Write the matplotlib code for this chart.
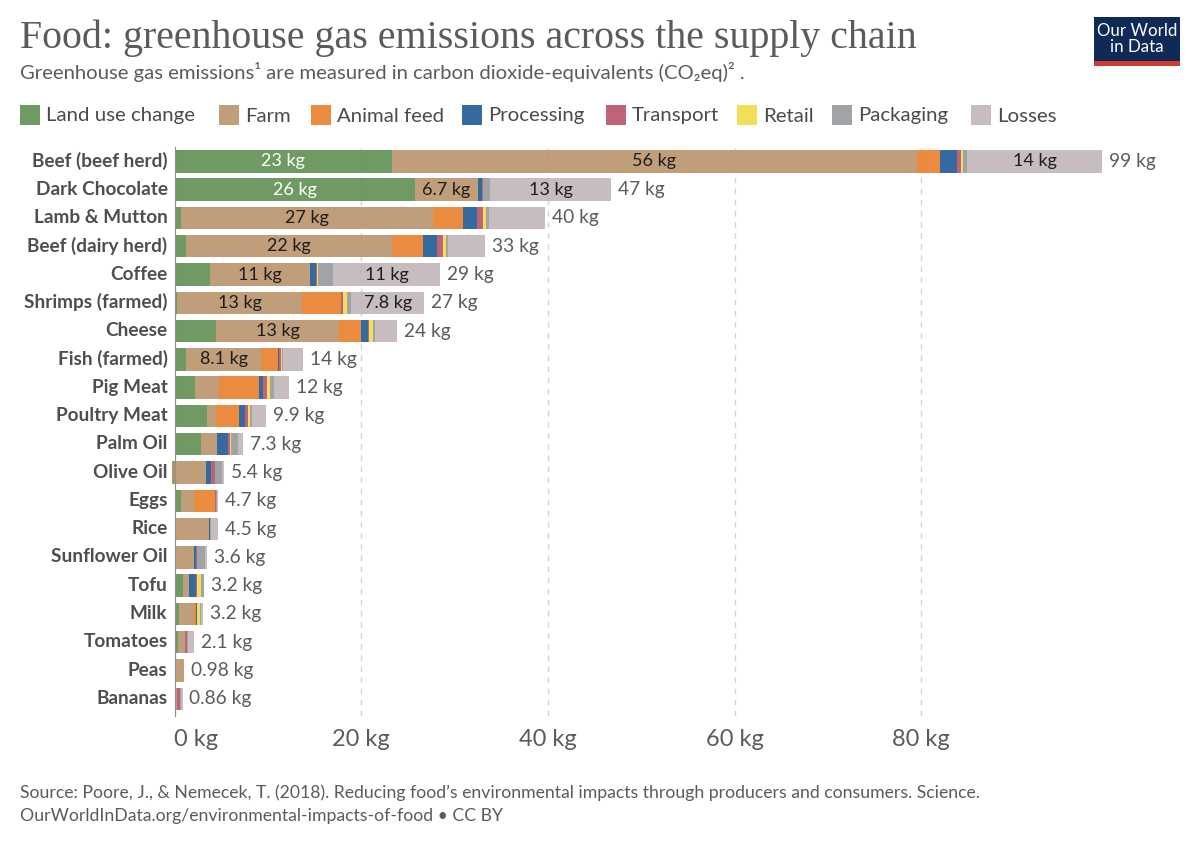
from __future__ import annotations

import matplotlib

matplotlib.use("Agg")

import matplotlib.pyplot as plt
import numpy as np
from matplotlib.patches import Rectangle
from matplotlib.transforms import ScaledTranslation

foods = [
    "Beef (beef herd)", "Dark Chocolate", "Lamb & Mutton", "Beef (dairy herd)", "Coffee",
    "Shrimps (farmed)", "Cheese", "Fish (farmed)", "Pig Meat", "Poultry Meat",
    "Palm Oil", "Olive Oil", "Eggs", "Rice", "Sunflower Oil",
    "Tofu", "Milk", "Tomatoes", "Peas", "Bananas",
]
total_labels = [
    "99 kg", "47 kg", "40 kg", "33 kg", "29 kg", "27 kg", "24 kg", "14 kg", "12 kg", "9.9 kg",
    "7.3 kg", "5.4 kg", "4.7 kg", "4.5 kg", "3.6 kg", "3.2 kg", "3.2 kg", "2.1 kg", "0.98 kg", "0.86 kg",
]

land_use = [23.3, 25.8, 0.65, 1.25, 3.8, 0.3, 4.45, 1.2, 2.2, 3.5, 2.8, -0.3, 0.7, 0, 0, 0.95, 0.5, 0.4, 0, 0]
farm = [56.2, 6.7, 27, 22, 10.7, 13.4, 13.2, 8.1, 2.55, 0.95, 1.8, 3.7, 1.35, 3.65, 2.1, 0.55, 1.55, 0.7, 0.98, 0.27]
animal_feed = [2.5, 0, 3.3, 3.4, 0, 4.1, 2.3, 1.8, 4.25, 2.45, 0, 0, 2.3, 0, 0, 0, 0.2, 0, 0, 0]
processing = [1.8, 0.4, 1.5, 1.5, 0.7, 0, 0.8, 0.05, 0.5, 0.6, 1.15, 0.55, 0, 0.1, 0.2, 0.75, 0.15, 0, 0, 0.05]
transport = [0.5, 0.1, 0.6, 0.6, 0.1, 0.3, 0.1, 0.3, 0.45, 0.35, 0.2, 0.4, 0.05, 0.1, 0.1, 0.2, 0.05, 0.2, 0, 0.3]
retail = [0.2, 0, 0.3, 0.3, 0.1, 0.35, 0.4, 0.1, 0.3, 0.25, 0.05, 0, 0, 0, 0, 0.35, 0.3, 0, 0, 0]
packaging = [0.4, 0.8, 0.3, 0.3, 1.6, 0.5, 0.2, 0.1, 0.4, 0.2, 0.8, 0.75, 0.1, 0.1, 0.9, 0.35, 0.1, 0.1, 0, 0.04]
losses = [14.5, 13, 6, 3.9, 11.4, 7.8, 2.4, 2.1, 1.65, 1.5, 0.55, 0.25, 0.2, 0.7, 0.2, 0.05, 0.2, 0.7, 0, 0.2]

series_names = ["Land use change", "Farm", "Animal feed", "Processing", "Transport", "Retail", "Packaging", "Losses"]
series_values = [land_use, farm, animal_feed, processing, transport, retail, packaging, losses]

# labels printed inside the wide segments: (food, series, text)
segment_labels = [
    ("Beef (beef herd)", "Land use change", "23 kg"),
    ("Beef (beef herd)", "Farm", "56 kg"),
    ("Beef (beef herd)", "Losses", "14 kg"),
    ("Dark Chocolate", "Land use change", "26 kg"),
    ("Dark Chocolate", "Farm", "6.7 kg"),
    ("Dark Chocolate", "Losses", "13 kg"),
    ("Lamb & Mutton", "Farm", "27 kg"),
    ("Beef (dairy herd)", "Farm", "22 kg"),
    ("Coffee", "Farm", "11 kg"),
    ("Coffee", "Losses", "11 kg"),
    ("Shrimps (farmed)", "Farm", "13 kg"),
    ("Shrimps (farmed)", "Losses", "7.8 kg"),
    ("Cheese", "Farm", "13 kg"),
    ("Fish (farmed)", "Farm", "8.1 kg"),
]

colors = ["#5f8f52", "#b8946a", "#e87e2a", "#1f5a96", "#b9526c", "#efdc45", "#979a9c", "#c1b5b7"]
legend_x_px = [20, 219, 311, 462, 606, 737, 832, 971]

TEXT = "#5b5b5b"
WIDTH, HEIGHT = 1200, 841

plt.rcParams["font.family"] = ["Lato", "DejaVu Sans"]


def fx(px: float) -> float:
    return px / WIDTH


def fy(px: float) -> float:
    return 1 - px / HEIGHT


figure = plt.figure(figsize=(WIDTH / 100, HEIGHT / 100), dpi=100)

axis = figure.add_axes([fx(174.5), fy(715.5), fx(933.5), (715.5 - 147.5) / HEIGHT])
axis.set_xlim(0, 100)
axis.set_ylim(19.59, -0.49)

rows = np.arange(len(foods))
starts = np.zeros(len(foods))
segment_centers = {}
for name, values, color in zip(series_names, series_values, colors):
    values = np.array(values, dtype=float)
    axis.barh(rows, values, left=starts, height=0.79, color=color, alpha=0.9, linewidth=0, zorder=2, clip_on=False)
    segment_centers[name] = starts + values / 2
    starts = starts + values

for food, name, text in segment_labels:
    row = foods.index(food)
    axis.text(
        segment_centers[name][row], row, text, ha="center", va="center", fontsize=13,
        color="white" if name == "Land use change" else "#1d1d1d", zorder=3,
    )

for row, (end, text) in enumerate(zip(starts, total_labels)):
    axis.annotate(
        text, (end, row), xytext=(5, 0), textcoords="offset points",
        ha="left", va="center", fontsize=13.8, color=TEXT, annotation_clip=False,
    )

axis.set_yticks(rows, foods, fontsize=13.7, fontweight="bold", color="#4e4e4e")
axis.tick_params(axis="y", length=0, pad=5)
# row names sit a little above the bar centres in the original
nudge_up = ScaledTranslation(0, 2 / 100, figure.dpi_scale_trans)
for label in axis.get_yticklabels():
    label.set_va("center_baseline")
    label.set_transform(label.get_transform() + nudge_up)
axis.set_xticks([0, 20, 40, 60, 80], ["0 kg", "20 kg", "40 kg", "60 kg", "80 kg"], fontsize=17, color=TEXT)
axis.tick_params(axis="x", length=0, pad=10)
axis.get_xticklabels()[0].set_ha("left")
axis.grid(True, axis="x", color="#d4d4d4", linestyle=(0, (4, 4)), linewidth=1, zorder=0)
for side in ["top", "right", "bottom"]:
    axis.spines[side].set_visible(False)
axis.spines["left"].set_color("#8e8e8e")
axis.spines["left"].set_zorder(4)

figure.text(fx(20), fy(48), "Food: greenhouse gas emissions across the supply chain",
            family="Liberation Serif", fontsize=28.7, color=TEXT, ha="left", va="baseline")
figure.text(fx(20), fy(79), "Greenhouse gas emissions¹ are measured in carbon dioxide-equivalents (CO₂eq)² .",
            fontsize=14.6, color=TEXT, ha="left", va="baseline")

for name, color, x_px in zip(series_names, colors, legend_x_px):
    figure.patches.append(Rectangle((fx(x_px), fy(125)), 20 / WIDTH, 19.5 / HEIGHT, color=color, alpha=0.9,
                                    linewidth=0, transform=figure.transFigure))
    figure.text(fx(x_px + 26), fy(121.5), name, fontsize=14.7, color="#4a4a4a", ha="left", va="baseline")

figure.patches.append(Rectangle((fx(1094), fy(61)), 86 / WIDTH, 44 / HEIGHT, color="#0f2a56", linewidth=0,
                                transform=figure.transFigure))
figure.patches.append(Rectangle((fx(1094), fy(66)), 86 / WIDTH, 5 / HEIGHT, color="#ce3b2f", linewidth=0,
                                transform=figure.transFigure))
figure.text(fx(1137), fy(39), "Our World\nin Data", fontsize=12.2, color="white", ha="center", va="center",
            linespacing=1.0)

figure.text(fx(20), fy(798), "Source: Poore, J., & Nemecek, T. (2018). Reducing food’s environmental impacts through producers and consumers. Science.",
            fontsize=12.72, color=TEXT, ha="left", va="baseline")
figure.text(fx(20), fy(821), "OurWorldInData.org/environmental-impacts-of-food • CC BY",
            fontsize=12.72, color=TEXT, ha="left", va="baseline")

figure.savefig("out.png", dpi=100)
plt.close(figure)
